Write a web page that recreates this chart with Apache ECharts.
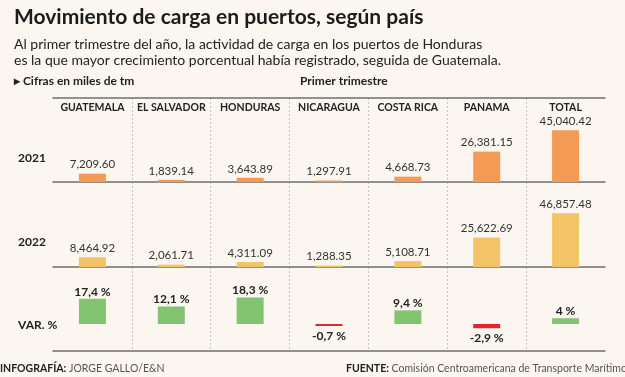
<!DOCTYPE html>
<html>
<head>
<meta charset="utf-8">
<script src="https://cdn.jsdelivr.net/npm/echarts@6/dist/echarts.min.js"></script>
<style>
  html, body { margin: 0; padding: 0; background: #fbf7f0; }
  #chart { width: 625px; height: 377px; }
</style>
</head>
<body>
<div id="chart"></div>
<script>
var paises = ['GUATEMALA', 'EL SALVADOR', 'HONDURAS', 'NICARAGUA', 'COSTA RICA', 'PANAMA', 'TOTAL'];
var carga2021 = [7209.60, 1839.14, 3643.89, 1297.91, 4668.73, 26381.15, 45040.42];
var carga2022 = [8464.92, 2061.71, 4311.09, 1288.35, 5108.71, 25622.69, 46857.48];
var variacion = [17.4, 12.1, 18.3, -0.7, 9.4, -2.9, 4];

var FONT = 'Lato, sans-serif';
var chart = echarts.init(document.getElementById('chart'));

function miles(v) {
    return v.toLocaleString('en-US', {minimumFractionDigits: 2, maximumFractionDigits: 2});
}
function pct(v) {
    return String(v).replace('.', ',') + ' %';
}

var varData = [];
for (var i = 0; i < variacion.length; i++) {
    var neg = variacion[i] < 0;
    varData.push({
        value: variacion[i],
        itemStyle: {color: neg ? '#e2262b' : '#82c46f'},
        label: {position: neg ? 'bottom' : 'top', distance: neg ? 4 : 1}
    });
}

var lineaGris = {show: true, onZero: false, lineStyle: {color: '#6f6f6f', width: 1.5}};
var punteada = {show: true, interval: 0, showMinLine: false, showMaxLine: false,
    lineStyle: {color: '#c4c4c4', type: [2, 2], width: 1}};

var option = {
    backgroundColor: '#fbf7f0',
    animation: false,
    textStyle: {fontFamily: FONT},
    title: [
        {text: 'Movimiento de carga en puertos, según país', left: 14, top: 7, padding: 0,
            textStyle: {fontFamily: FONT, fontSize: 21, fontWeight: 'bold', color: '#1b1b1b'}},
        {text: 'Al primer trimestre del año, la actividad de carga en los puertos de Honduras\nes la que mayor crecimiento porcentual había registrado, seguida de Guatemala.',
            left: 14, top: 37, padding: 0,
            textStyle: {fontFamily: FONT, fontSize: 14, fontWeight: 'normal', lineHeight: 15.5, color: '#222'}},
        {text: '▸ Cifras en miles de tm', left: 14, top: 75, padding: 0,
            textStyle: {fontFamily: FONT, fontSize: 12, fontWeight: 'bold', color: '#222'}},
        {text: 'Primer trimestre', left: 300, top: 75, padding: 0,
            textStyle: {fontFamily: FONT, fontSize: 12, fontWeight: 'bold', color: '#222'}},
        {text: '2021', left: 18, top: 152, padding: 0,
            textStyle: {fontFamily: FONT, fontSize: 12, fontWeight: 'bold', color: '#222'}},
        {text: '2022', left: 18, top: 236, padding: 0,
            textStyle: {fontFamily: FONT, fontSize: 12, fontWeight: 'bold', color: '#222'}},
        {text: 'VAR. %', left: 18, top: 319, padding: 0,
            textStyle: {fontFamily: FONT, fontSize: 12, fontWeight: 'bold', color: '#222'}},
        {text: '{b|INFOGRAFÍA:} JORGE GALLO/E&N', left: 0, top: 363, padding: 0,
            textStyle: {fontFamily: FONT, fontSize: 10.5, fontWeight: 'normal', color: '#555',
                rich: {b: {fontFamily: FONT, fontSize: 10.5, fontWeight: 'bold', color: '#222'}}}},
        {text: '{b|FUENTE:} Comisión Centroamericana de Transporte Marítimo', left: 346, top: 363, padding: 0,
            textStyle: {fontFamily: FONT, fontSize: 10.5, fontWeight: 'normal', color: '#555',
                rich: {b: {fontFamily: FONT, fontSize: 10.5, fontWeight: 'bold', color: '#222'}}}}
    ],
    grid: [
        {left: 53, right: 20, top: 98, height: 84},
        {left: 53, right: 20, top: 182, height: 85},
        {left: 53, right: 20, top: 267, height: 84}
    ],
    xAxis: [
        {type: 'category', gridIndex: 0, position: 'top', data: paises,
            axisLine: lineaGris, axisTick: {show: false}, splitLine: punteada,
            axisLabel: {inside: true, interval: 0, margin: 4, fontFamily: FONT, fontSize: 10.5, fontWeight: 'bold', color: '#222'}},
        {type: 'category', gridIndex: 0, position: 'bottom', data: paises,
            axisLine: lineaGris, axisTick: {show: false}, axisLabel: {show: false}},
        {type: 'category', gridIndex: 1, position: 'bottom', data: paises,
            axisLine: lineaGris, axisTick: {show: false}, axisLabel: {show: false}, splitLine: punteada},
        {type: 'category', gridIndex: 2, position: 'bottom', data: paises,
            axisLine: lineaGris, axisTick: {show: false}, axisLabel: {show: false}, splitLine: punteada}
    ],
    yAxis: [
        {type: 'value', gridIndex: 0, min: 0, max: 73000, show: false},
        {type: 'value', gridIndex: 1, min: 0, max: 74000, show: false},
        {type: 'value', gridIndex: 2, min: -18.6, max: 39.3, show: false}
    ],
    series: [
        {name: '2021', type: 'bar', xAxisIndex: 0, yAxisIndex: 0, data: carga2021, barWidth: 27,
            itemStyle: {color: '#f39a55'},
            label: {show: true, position: 'top', distance: 3, fontFamily: FONT, fontSize: 11.5, color: '#333',
                formatter: function (p) { return miles(p.value); }}},
        {name: '2022', type: 'bar', xAxisIndex: 2, yAxisIndex: 1, data: carga2022, barWidth: 27,
            itemStyle: {color: '#f3c466'},
            label: {show: true, position: 'top', distance: 3, fontFamily: FONT, fontSize: 11.5, color: '#333',
                formatter: function (p) { return miles(p.value); }}},
        {name: 'VAR. %', type: 'bar', xAxisIndex: 3, yAxisIndex: 2, data: varData, barWidth: 27,
            barMinHeight: 2,
            label: {show: true, fontFamily: FONT, fontSize: 12, fontWeight: 'bold', color: '#222',
                formatter: function (p) { return pct(p.value); }}}
    ]
};
chart.setOption(option);
</script>
</body>
</html>
